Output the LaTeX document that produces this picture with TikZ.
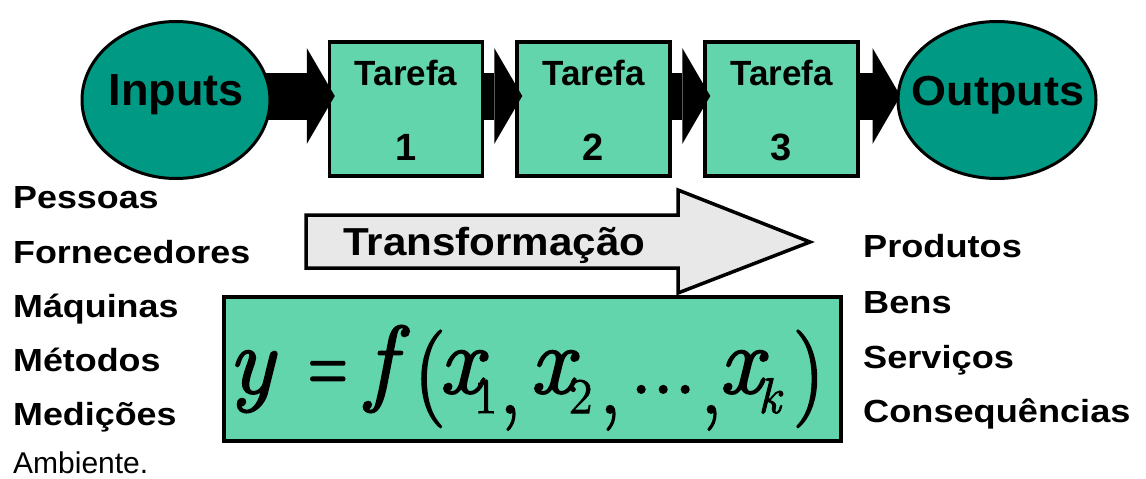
\documentclass[tikz,border=0pt]{standalone}
\usepackage{fontspec}
\usepackage{graphicx}
\setmainfont{Liberation Sans}
\newfontfamily\eqfont[FakeBold=2]{Latin Modern Roman}
\usetikzlibrary{arrows.meta,shapes.geometric}
\pgfdeclarelayer{boxl}
\pgfdeclarelayer{arrl}
\pgfsetlayers{boxl,arrl,main}
\definecolor{tealfill}{HTML}{009A84}
\definecolor{mintfill}{HTML}{62D5AC}
\definecolor{grayfill}{HTML}{E8E8E8}
\newcommand\eqpc[2]{\rlap{\hspace*{#1pt}#2}}
\newcommand\eqsub[1]{\raisebox{-20pt}{\fontsize{50}{50}\selectfont #1}}
\newcommand\eqlet[1]{{\fontsize{96}{96}\selectfont\itshape #1}}
\begin{document}
\begin{tikzpicture}[x=1pt,y=-1pt,
  ell/.style={ellipse, draw=black, line width=3pt, fill=tealfill, inner sep=0pt,
              minimum width=188pt, minimum height=157pt},
  tbox/.style={rectangle, draw=black, line width=3.5pt, fill=mintfill, inner sep=0pt,
               minimum width=153pt, minimum height=134pt},
  eqbox/.style={rectangle, draw=black, line width=4pt, fill=mintfill, inner sep=0pt,
               minimum width=617pt, minimum height=144pt},
  biglab/.style={font=\fontsize{45}{45}\selectfont\bfseries, anchor=base, inner sep=0pt},
  tlab/.style={font=\fontsize{35}{35}\selectfont\bfseries, anchor=base, inner sep=0pt},
  nlab/.style={font=\fontsize{38}{38}\selectfont\bfseries, anchor=base, inner sep=0pt},
  item/.style={font=\fontsize{32}{32}\selectfont\bfseries, anchor=base west, inner sep=0pt},
  blk/.style={black, line width=47pt, -{Triangle[length=28pt,width=96pt,line width=0pt]}},
]
\useasboundingbox (0,0) rectangle (1146,479);

% task boxes (lower layer)
\begin{pgfonlayer}{boxl}
\node[tbox] (t1) at (406,109) {};
\node[tbox] (t2) at (593.5,109) {};
\node[tbox] (t3) at (781.5,109) {};
\end{pgfonlayer}

% ellipses
\node[ell] (inp) at (176,100) {};
\node[ell, minimum width=198pt] (out) at (997,100) {};

\node[biglab] (inpt) at (176,105) {Inputs};
\node[biglab, font=\fontsize{42}{42}\selectfont\bfseries] (outt) at (998,105) {\scalebox{1.07}[1]{Outputs}};

\node[tlab] (t1a) at (t1 |- 0,85) {Tarefa};
\node[tlab] (t2a) at (t2 |- 0,85) {Tarefa};
\node[tlab] (t3a) at (t3 |- 0,85) {Tarefa};
\node[nlab] (t1b) at (t1 |- 0,160) {1};
\node[nlab] (t2b) at (t2 |- 0,160) {2};
\node[nlab] (t3b) at (t3 |- 0,160) {3};

% black connectors
\coordinate (ar) at (0,96);
\begin{pgfonlayer}{arrl}
\draw[blk, shorten <=-14pt, shorten >=-7pt] (inp.east |- ar) -- (t1.west |- ar);
\draw[blk, shorten >=-7pt] (t1.east |- ar) -- (t2.west |- ar);
\draw[blk, shorten >=-7pt] (t2.east |- ar) -- (t3.west |- ar);
\draw[blk, shorten >=-4pt] (t3.east |- ar) -- (out.west |- ar);
\end{pgfonlayer}

% transformation arrow
\draw[line width=3.5pt, fill=grayfill, line join=miter]
  (306,215) -- (678,215) -- (678,190) -- (810,242) -- (678,293) -- (678,268) -- (306,268) -- cycle;
\node[anchor=base west, inner sep=0pt, font=\fontsize{39}{39}\selectfont\bfseries] (trf) at (343,255)
  {\scalebox{1.08}[1]{Transformação}};

% equation box
\node[eqbox] (eq) at (532.5,369) {};
\node[anchor=base west, inner sep=0pt, font=\eqfont\fontsize{88}{88}\selectfont] (eqf) at (228,393) {%
\eqpc{0}{\eqlet{y}}%
\eqpc{80}{\scalebox{0.62}[1]{=}}%
\eqpc{138}{\eqlet{f}}%
\eqpc{186}{\raisebox{-10pt}{\scalebox{1}[1.1]{(}}}%
\eqpc{211}{\eqlet{x}}%
\eqpc{246}{\eqsub{1}}%
\eqpc{271}{\raisebox{-20pt}{,}}%
\eqpc{302}{\eqlet{x}}%
\eqpc{341}{\eqsub{2}}%
\eqpc{371}{\raisebox{-20pt}{,}}%
\eqpc{402}{.}%
\eqpc{424}{.}%
\eqpc{446}{.}%
\eqpc{472}{\raisebox{-20pt}{,}}%
\eqpc{491}{\eqlet{x}}%
\eqpc{530}{\eqsub{\itshape k}}%
\eqpc{565}{\raisebox{-10pt}{\scalebox{1}[1.1]{)}}}%
\hspace*{595pt}};

% input list
\node[item] (l1) at (13,208) {\scalebox{1.12}[1]{Pessoas}};
\node[item] (l2) at (13,263) {\scalebox{1.12}[1]{Fornecedores}};
\node[item] (l3) at (13,317) {\scalebox{1.12}[1]{Máquinas}};
\node[item] (l4) at (13,371) {\scalebox{1.12}[1]{Métodos}};
\node[item] (l5) at (13,425) {\scalebox{1.12}[1]{Medições}};
\node[item, font=\fontsize{30}{30}\selectfont] (l6) at (13,473) {Ambiente.};

% output list
\node[item] (r1) at (863,257) {\scalebox{1.13}[1]{Produtos}};
\node[item] (r2) at (863,313) {\scalebox{1.13}[1]{Bens}};
\node[item] (r3) at (863,368) {\scalebox{1.13}[1]{Serviços}};
\node[item] (r4) at (863,422) {\scalebox{1.13}[1]{Consequências}};
\end{tikzpicture}
\end{document}
